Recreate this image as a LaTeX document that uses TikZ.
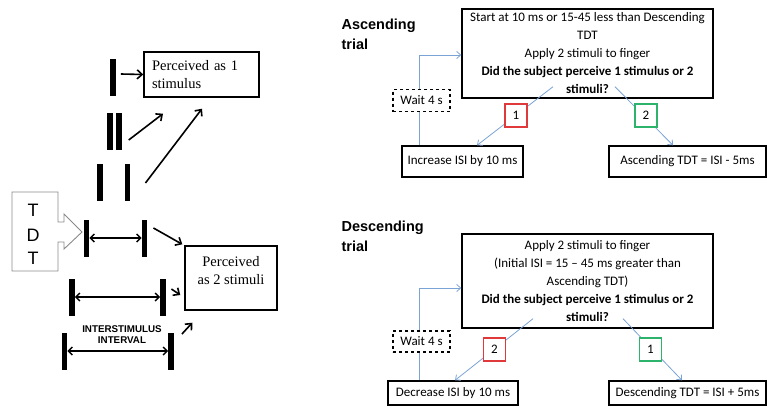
\documentclass[tikz,border=0pt]{standalone}
\usepackage{fontspec}
\setmainfont{Carlito}
\newfontfamily\serifx{Liberation Serif}
\newfontfamily\sansx{Liberation Sans}
\usetikzlibrary{arrows.meta}
\definecolor{flowblue}{HTML}{7BA3D6}
\definecolor{lblred}{HTML}{E0393B}
\definecolor{lblgreen}{HTML}{2DB36B}
\definecolor{tdtgray}{HTML}{8A8A8A}
\begin{document}
\begin{tikzpicture}[x=1pt,y=-1pt,
  bar/.style={fill=black,inner sep=0pt,minimum width=5.5pt,minimum height=37pt},
  blk/.style={line width=1.6pt,-{Straight Barb[length=5pt,width=9pt]}},
  dbl/.style={line width=1.4pt,{Straight Barb[length=4pt,width=8pt]}-{Straight Barb[length=4pt,width=8pt]}},
  pbox/.style={draw=black,line width=1.4pt,inner sep=0pt,font=\serifx\fontsize{14.5}{17.5}\selectfont},
  fbox/.style={draw=black,line width=1.4pt,inner sep=0pt,align=center,font=\fontsize{13}{18}\selectfont},
  wbox/.style={draw=black,dashed,line width=1.1pt,fill=white,inner sep=0pt,minimum width=57pt,font=\fontsize{13}{16}\selectfont},
  lbl/.style={line width=1.3pt,fill=white,inner sep=0pt,minimum width=22pt,minimum height=23pt,font=\fontsize{13}{16}\selectfont},
  blu/.style={draw=flowblue,line width=0.8pt,-{Straight Barb[length=4pt,width=7pt]}},
  head/.style={anchor=west,align=left,font=\sansx\bfseries\fontsize{14.5}{20}\selectfont}
]
\useasboundingbox (0,0) rectangle (767,410);

% ---------- left part ----------
\node[bar] (b1)  at (113,77.5) {};
\node[bar,minimum width=6pt] (b2a) at (110,131.5) {};
\node[bar,minimum width=6pt] (b2b) at (118.5,131.5) {};
\node[bar] (b3a) at (100,182) {};
\node[bar] (b3b) at (127.5,182) {};
\node[bar] (b4a) at (86.5,238) {};
\node[bar] (b4b) at (144.5,238) {};
\node[bar] (b5a) at (72,297) {};
\node[bar] (b5b) at (163,297) {};
\node[bar] (b6a) at (64.5,351) {};
\node[bar] (b6b) at (171,351) {};

\node[pbox,minimum width=115pt,minimum height=45pt,inner xsep=8pt,text width=99pt,align=left] (p1) at (201.5,74.5) {Perceived as 1\\stimulus};
\node[pbox,minimum width=92pt,minimum height=64pt] (p2) at (231,278) {};
\node[font=\serifx\fontsize{14.5}{18}\selectfont,align=center] (p2t) at ([yshift=7pt]p2.center) {Perceived\\as 2 stimuli};

% TDT arrow box
\draw[tdtgray,line width=0.9pt] (12,192) -- (58,192) -- (58,222) -- (64,222) -- (64,214) -- (82,232) -- (64,249) -- (64,242) -- (58,242) -- (58,271) -- (12,271) -- cycle;
\node[font=\sansx\fontsize{18}{18}\selectfont] (t1) at (33,210) {T};
\node[font=\sansx\fontsize{18}{18}\selectfont] (t2) at (33,235) {D};
\node[font=\sansx\fontsize{18}{18}\selectfont] (t3) at (33,258) {T};

% interval arrows
\draw[dbl] (b4a.east) -- (b4b.west);
\draw[dbl] (b5a.east) -- (b5b.west);
\draw[dbl] (b6a.east) -- (b6b.west);
\node[font=\sansx\bfseries\fontsize{9.8}{11}\selectfont,align=center] (isi) at (122,334.5) {INTERSTIMULUS\\INTERVAL};

% perception arrows
\draw[blk] ([xshift=5pt,yshift=3.5pt]b1.east) -- (p1.west);
\draw[blk] ([shift={(7,8.5)}]b2b.east) -- ([shift={(-38.5,16)}]p1.south);
\draw[blk] ([shift={(15,1)}]b3b.east) -- ([shift={(0.5,11)}]p1.south);
\draw[blk] ([shift={(6,-10)}]b4b.east) -- ([shift={(-2,-1)}]p2.north west);
\draw[blk] ([shift={(5.5,-8)}]b5b.east) -- ([shift={(-4,17)}]p2.west);
\draw[blk] ([shift={(8,-17)}]b6b.east) -- ([shift={(8,12)}]p2.south west);

% ---------- ascending trial ----------
\node[head] (h1) at (338,34) {Ascending\\trial};
\node[fbox,minimum width=251pt,minimum height=89pt] (q1) at (587.5,53.5)
  {Start at 10 ms or 15-45 less than Descending\\TDT\\Apply 2 stimuli to finger\\\textbf{Did the subject perceive 1 stimulus or 2}\\\textbf{stimuli?}};
\node[fbox,minimum width=121pt,minimum height=31pt] (r1) at (462.5,161.5) {Increase ISI by 10 ms};
\node[fbox,minimum width=157pt,minimum height=31pt] (r2) at (687.5,161.5) {Ascending TDT = ISI - 5ms};

\draw[blu] ([xshift=-43.5pt]r1.north) |- ([yshift=-1.5pt]q1.west);
\draw[blu] ([shift={(-34.5,-12)}]q1.south) -- ([xshift=14.5pt]r1.north);
\draw[blu] ([shift={(27.5,-12)}]q1.south) -- ([xshift=-14.5pt]r2.north);

\node[wbox,minimum height=22pt] (w1) at (421.5,100.5) {Wait 4 s};
\node[lbl,draw=lblred] (l1) at (516,115.5) {1};
\node[lbl,draw=lblgreen] (l2) at (646,115.5) {2};

% ---------- descending trial ----------
\node[head] (h2) at (338,236) {Descending\\trial};
\node[fbox,minimum width=251pt,minimum height=94pt] (q2) at (587.5,281)
  {Apply 2 stimuli to finger\\(Initial ISI = 15 – 45 ms greater than\\Ascending TDT)\\\textbf{Did the subject perceive 1 stimulus or 2}\\\textbf{stimuli?}};
\node[fbox,minimum width=130pt,minimum height=24pt] (r3) at (453,393) {Decrease ISI by 10 ms};
\node[fbox,minimum width=157pt,minimum height=24pt] (r4) at (687.5,393) {Descending TDT = ISI + 5ms};

\draw[blu] ([xshift=-34pt]r3.north) |- ([yshift=-7pt]q2.west);
\draw[blu] ([shift={(-54.5,-10)}]q2.south) -- ([xshift=2pt]r3.north);
\draw[blu] ([shift={(35.5,-10)}]q2.south) -- ([xshift=-5.5pt]r4.north);

\node[wbox,minimum height=21pt] (w2) at (421.5,341.5) {Wait 4 s};
\node[lbl,draw=lblred] (l3) at (494.5,349.5) {2};
\node[lbl,draw=lblgreen] (l4) at (650.5,349.5) {1};
\end{tikzpicture}
\end{document}
